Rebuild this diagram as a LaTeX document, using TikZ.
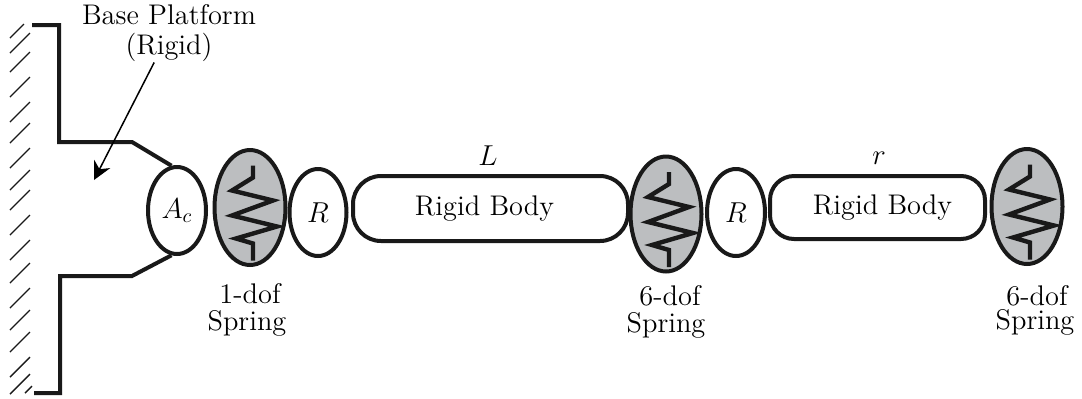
\documentclass[tikz,border=0pt]{standalone}
\usetikzlibrary{shapes.geometric, arrows.meta, positioning}
\definecolor{springgray}{HTML}{BCBEC0}
\tikzset{
	thickline/.style={line width=2pt, draw=black!90, line join=miter},
	joint/.style={ellipse, thickline, inner sep=0pt, fill=white},
	spring/.style={joint, fill=springgray, minimum width=35.5pt, minimum height=57.5pt},
	rigid/.style={rectangle, rounded corners=12pt, thickline, inner sep=0pt, fill=white},
	caption/.style={align=center, inner sep=0pt, font=\fontsize{14.2}{13.5}\selectfont},
	hatch/.style={line width=0.7pt, black!90}
}
\begin{document}
\begin{tikzpicture}[x=0.5pt, y=-0.5pt, every node/.style={font=\fontsize{14.2}{14}\selectfont}]
	\useasboundingbox (0,0) rectangle (1082,398);
	% Wall
	\foreach \ytop in {33,52,77,102,123,148,170,190,215,240,263,288,310,332,357,374} {
		\draw[hatch] (10,\ytop+20) -- ++(20,-20);
	}
	\coordinate (hatchtop) at (24,24);
	\coordinate (hatchbot) at (32,386);
	\draw[hatch] (hatchtop) -- ++(-14,14);
	\draw[hatch] (hatchbot) -- ++(-7,7);
	% Joints and bodies
	\node (Ac) [joint, minimum width=29pt, minimum height=43.5pt] at (177,210.5) {$A_c$};
	\node (spring1) [spring] at (250,207.5) {};
	\node (R1) [joint, minimum width=28.5pt, minimum height=43.5pt] at (318,212.5) {$R$};
	\node (body1) [rigid, rounded corners=14pt, minimum width=137.5pt, minimum height=32.5pt] at (490.5,208.5) {Rigid Body\kern6pt};
	\node (spring2) [spring] at (666,214) {};
	\node (R2) [joint, minimum width=29pt, minimum height=43.5pt] at (736,212.5) {$R$};
	\node (body2) [rigid, minimum width=107.5pt, minimum height=31.5pt] at (877.5,207.5) {\kern5pt Rigid Body};
	\node (spring3) [spring] at (1027,206.5) {};
	% Spring coils
	\foreach \n in {spring1,spring2,spring3} {
		\draw[thickline, line width=2.2pt] ([shift={(3,-42)}]\n.center) -- ++(0,12) -- ++(-21,13) -- ++(41,10) -- ++(-41,15)
			-- ++(45,11) -- ++(-41,12) -- ++(17,5) -- ++(0,17);
	}
	% Base platform
	\coordinate (topleft) at (32,25);
	\coordinate (topcorner) at (59,25);
	\coordinate (topstep) at (59,142);
	\coordinate (topbend) at (132,142);
	\coordinate (botbend) at (132,276);
	\coordinate (botstep) at (60,276);
	\coordinate (botcorner) at (60,393);
	\coordinate (botleft) at (34,393);
	\draw[thickline] (topleft) -- (topcorner) -- (topstep) -- (topbend) -- (Ac.97);
	\draw[thickline] (Ac.263) -- (botbend) -- (botstep) -- (botcorner) -- (botleft);
	% Labels
	\node (base) [caption, font=\fontsize{14.2}{15}\selectfont] at (169,33.5) {Base Platform\\(Rigid)};
	\coordinate (basepoint) at (94,180);
	\draw[line width=0.75pt, -{Stealth[length=9pt, width=9pt]}] (base) -- (basepoint);
	\node (L) at (488,156) {$L$};
	\node (r) at (879,158) {$r$};
	\node (dof1) [caption] at (247,309.5) {\kern3pt 1-dof\\Spring};
	\node (dof2) [caption] at (666,311.5) {\kern4pt 6-dof\\Spring};
	\node (dof3) [caption, font=\fontsize{14.2}{12}\selectfont] at (1035,310) {\kern2pt 6-dof\\Spring};
\end{tikzpicture}
\end{document}
